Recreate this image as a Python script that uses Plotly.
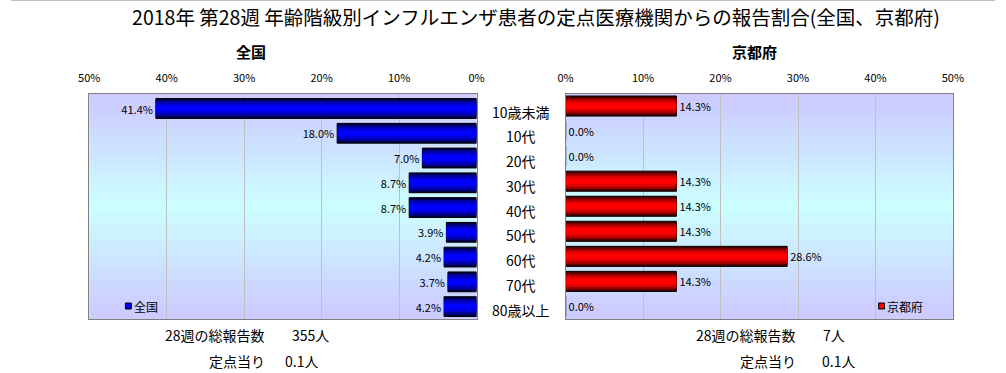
import plotly.graph_objects as go

# ---- data ----
age_groups = ["10歳未満", "10代", "20代", "30代", "40代", "50代", "60代", "70代", "80歳以上"]
national_pct = [41.4, 18.0, 7.0, 8.7, 8.7, 3.9, 4.2, 3.7, 4.2]
kyoto_pct = [14.3, 0.0, 0.0, 14.3, 14.3, 14.3, 28.6, 14.3, 0.0]
tick_vals = [0, 10, 20, 30, 40, 50]
tick_text = ["0%", "10%", "20%", "30%", "40%", "50%"]
title_text = "2018年 第28週 年齢階級別インフルエンザ患者の定点医療機関からの報告割合(全国、京都府)"
national_name = "全国"
kyoto_name = "京都府"
national_total = ["28週の総報告数", "355人"]
national_per = ["定点当り", "0.1人"]
kyoto_total = ["28週の総報告数", "7人"]
kyoto_per = ["定点当り", "0.1人"]

W, H = 1006, 373
FONT = "Noto Sans CJK JP"

def px(x):
    return x / W

def py(y):
    return 1 - y / H

fig = go.Figure()

# bar layers to mimic the cylindrical gradient
blue_layers = [(0.8, "#000048"), (0.62, "#00009a"), (0.44, "#0000d0"), (0.24, "#0000ff")]
red_layers = [(0.8, "#480000"), (0.62, "#9a0000"), (0.44, "#d80000"), (0.24, "#ff0000")]

for i, (w, c) in enumerate(blue_layers):
    fig.add_trace(go.Bar(
        x=national_pct, y=age_groups, orientation="h", width=w,
        marker=dict(color=c, line=dict(color="black", width=1 if i == 0 else 0)),
        text=[f"{v:.1f}%" for v in national_pct] if i == 0 else None,
        textposition="outside" if i == 0 else "none", constraintext="none",
        textfont=dict(size=11, color="black", family=FONT),
        cliponaxis=False, showlegend=False, name=national_name,
        xaxis="x", yaxis="y",
    ))
for i, (w, c) in enumerate(red_layers):
    fig.add_trace(go.Bar(
        x=kyoto_pct, y=age_groups, orientation="h", width=w,
        marker=dict(color=c, line=dict(color="black", width=1 if i == 0 else 0)),
        text=[f"{v:.1f}%" for v in kyoto_pct] if i == 0 else None,
        textposition="outside" if i == 0 else "none", constraintext="none",
        textfont=dict(size=11, color="black", family=FONT),
        cliponaxis=False, showlegend=False, name=kyoto_name,
        xaxis="x2", yaxis="y2",
    ))

ytop, ybot = 93.5, 319
xaxis_common = dict(
    side="top", tickvals=tick_vals, ticktext=tick_text, showgrid=True,
    gridcolor="#c0c0c0", gridwidth=1, showline=True, linecolor="#808080",
    linewidth=1, mirror=True, zeroline=False, ticks="outside", ticklen=6,
    tickcolor="rgba(0,0,0,0)", tickfont=dict(size=11, family=FONT, color="black"),
    fixedrange=True,
)
yaxis_common = dict(
    categoryorder="array", categoryarray=age_groups, autorange="reversed",
    showticklabels=False, showgrid=False, showline=True, linecolor="#808080",
    linewidth=1, mirror=True, zeroline=False, domain=[py(ybot), py(ytop)],
    fixedrange=True,
)

fig.update_layout(
    width=W, height=H,
    margin=dict(l=0, r=0, t=0, b=0),
    paper_bgcolor="white", plot_bgcolor="rgba(0,0,0,0)",
    barmode="overlay", bargap=0.2,
    font=dict(family=FONT, color="black"),
    xaxis=dict(xaxis_common, domain=[px(80), px(476)], range=[50, 0], anchor="y"),
    xaxis2=dict(xaxis_common, domain=[px(567), px(963)], range=[0, 50], anchor="y2"),
    yaxis=dict(yaxis_common, anchor="x"),
    yaxis2=dict(yaxis_common, anchor="x2"),
    title=dict(text=title_text, x=px(536), xanchor="center", y=py(18), yanchor="middle",
               font=dict(size=19.5, family=FONT, color="black")),
)

# gradient background strips (styling)
N = 40
shapes = []
for xr, yr in (("x domain", "y domain"), ("x2 domain", "y2 domain")):
    for k in range(N):
        t = (k + 0.5) / N
        d = min(1.0, abs(t - 0.5) * 2.2)
        g = int(round(204 + 51 * (1 - d)))
        shapes.append(dict(type="rect", xref=xr, yref=yr, x0=0, x1=1,
                           y0=k / N, y1=(k + 1) / N + 0.002, line=dict(width=0),
                           fillcolor=f"rgb(204,{g},255)", layer="below"))
# top rule of the chart frame
shapes.append(dict(type="line", xref="paper", yref="paper", x0=0, x1=1, y0=py(0.5), y1=py(0.5),
                   line=dict(color="#c0c0c0", width=1)))
# legend markers
shapes.append(dict(type="rect", xref="paper", yref="paper", x0=px(117), x1=px(123),
                   y0=py(309), y1=py(303), fillcolor="#0000ff", line=dict(color="black", width=1)))
shapes.append(dict(type="rect", xref="paper", yref="paper", x0=px(887), x1=px(893),
                   y0=py(309), y1=py(303), fillcolor="#ff0000", line=dict(color="black", width=1)))
fig.update_layout(shapes=shapes)

ann = []
def text(x, y, s, size=13, anchor="left", bold=False, xref="paper", yref="paper"):
    ann.append(dict(x=x, y=y, xref=xref, yref=yref, text=f"<b>{s}</b>" if bold else s,
                    showarrow=False, xanchor=anchor, yanchor="middle",
                    font=dict(size=size, family=FONT, color="black")))

# subplot titles
text(px(245), py(52), national_name, size=15, anchor="center", bold=True)
text(px(760), py(52), kyoto_name, size=15, anchor="center", bold=True)
# category labels between the panels
for g in age_groups:
    ann.append(dict(x=px(521), y=g, xref="paper", yref="y", text=g, showarrow=False,
                    xanchor="center", yanchor="middle", yshift=-3,
                    font=dict(size=14, family=FONT, color="black")))
# legends
text(px(124), py(306), national_name, size=12)
text(px(894), py(306), kyoto_name, size=12)
# summary texts
text(px(155), py(335), national_total[0], size=14)
text(px(285), py(335), national_total[1], size=14)
text(px(200), py(361), national_per[0], size=14)
text(px(278), py(361), national_per[1], size=14)
text(px(698), py(335), kyoto_total[0], size=14)
text(px(828), py(335), kyoto_total[1], size=14)
text(px(743), py(361), kyoto_per[0], size=14)
text(px(827), py(361), kyoto_per[1], size=14)
fig.update_layout(annotations=ann)

fig.write_html(
    "out.html",
    config={"displayModeBar": False},
    post_script="document.body.style.margin='0';document.body.style.overflow='hidden';",
)
